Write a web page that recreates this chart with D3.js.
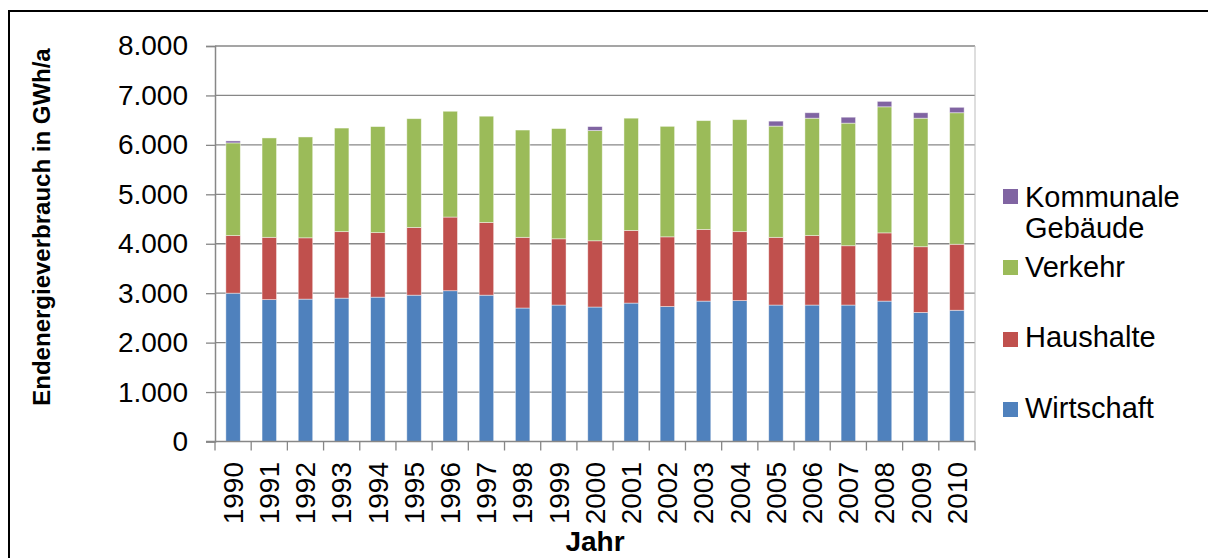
<!DOCTYPE html>
<html>
<head>
<meta charset="utf-8">
<script src="https://cdn.jsdelivr.net/npm/d3@7"></script>
<style>
  body { margin: 0; background: #fff; }
  svg { display: block; font-family: "Liberation Sans", Arial, sans-serif; }
</style>
</head>
<body>
<svg id="chart"></svg>
<script>
const W = 1208, H = 558;

// data (GWh/a)
const years = ["1990","1991","1992","1993","1994","1995","1996","1997","1998","1999","2000",
               "2001","2002","2003","2004","2005","2006","2007","2008","2009","2010"];
const wirtschaft = [3000,2870,2880,2900,2920,2960,3050,2960,2700,2760,2720,2800,2730,2840,2850,2760,2760,2760,2840,2610,2655];
const haushalte  = [1165,1260,1240,1345,1305,1370,1490,1470,1430,1340,1340,1470,1410,1450,1395,1370,1405,1200,1380,1330,1335];
const verkehr    = [1875,2010,2040,2095,2145,2200,2140,2150,2170,2230,2230,2270,2235,2200,2265,2250,2375,2480,2550,2600,2660];
const kommunal   = [40,0,0,0,0,0,0,0,0,0,80,0,0,0,0,100,110,120,110,110,110];
const yTicks = [0,1000,2000,3000,4000,5000,6000,7000,8000];

const seriesKeys = ["Wirtschaft","Haushalte","Verkehr","Kommunale Gebäude"];
const colors = ["#4F81BD","#C0504D","#9BBB59","#8064A2"];

// plot area
const X0 = 215, X1 = 975, Y0 = 46, Y1 = 441.5;
const gridColor = "#878787";

const svg = d3.select("#chart").attr("width", W).attr("height", H);

const rows = years.map((yr, i) => ({
  year: yr,
  "Wirtschaft": wirtschaft[i],
  "Haushalte": haushalte[i],
  "Verkehr": verkehr[i],
  "Kommunale Gebäude": kommunal[i]
}));
const stacked = d3.stack().keys(seriesKeys)(rows);

const x = d3.scaleBand().domain(years).range([X0, X1]);
const y = d3.scaleLinear().domain([0, 8000]).range([Y1, Y0]);
const color = d3.scaleOrdinal().domain(seriesKeys).range(colors);

const de = d3.formatLocale({decimal: ",", thousands: ".", grouping: [3], currency: ["", " €"]});
const fmt = de.format(",d");

// outer frame (left and top edge visible)
svg.append("path")
  .attr("d", `M${W},11 H9 V${H + 5}`)
  .attr("fill", "none").attr("stroke", "#000").attr("stroke-width", 2);

// gridlines
svg.append("g").selectAll("line")
  .data(yTicks.filter(d => d > 0))
  .join("line")
  .attr("x1", X0).attr("x2", X1)
  .attr("y1", d => y(d)).attr("y2", d => y(d))
  .attr("stroke", gridColor).attr("stroke-width", 1.3);

// right edge of plot area
svg.append("line")
  .attr("x1", X1).attr("x2", X1).attr("y1", Y0).attr("y2", Y1)
  .attr("stroke", "#bdbdbd").attr("stroke-width", 1);

// bars
const barW = x.bandwidth() * 0.4;
svg.append("g").selectAll("g")
  .data(stacked)
  .join("g")
  .attr("fill", d => color(d.key))
  .selectAll("rect")
  .data(d => d.filter(s => s[1] - s[0] > 0))
  .join("rect")
  .attr("x", d => x(d.data.year) + (x.bandwidth() - barW) / 2)
  .attr("width", barW)
  .attr("y", d => y(d[1]))
  .attr("height", d => y(d[0]) - y(d[1]))
  .attr("stroke", "rgba(255,255,255,0.55)")
  .attr("stroke-width", 0.8);

// y axis
const yAxis = svg.append("g").attr("transform", `translate(${X0},0)`)
  .call(d3.axisLeft(y).tickValues(yTicks).tickFormat(fmt).tickSize(9).tickPadding(18));
yAxis.select(".domain").attr("stroke", gridColor).attr("stroke-width", 1.5);
yAxis.selectAll(".tick line").attr("stroke", gridColor).attr("stroke-width", 1.3);
yAxis.selectAll(".tick text")
  .attr("font-size", 28).attr("fill", "#000")
  .attr("font-family", "Liberation Sans, Arial, sans-serif");

// x axis
const xAxisG = svg.append("g");
xAxisG.append("line")
  .attr("x1", X0 - 9).attr("x2", X1).attr("y1", Y1).attr("y2", Y1)
  .attr("stroke", gridColor).attr("stroke-width", 1.5);
xAxisG.selectAll("line.tick")
  .data(years.map(yr => x(yr)).concat([X1]))
  .join("line")
  .attr("class", "tick")
  .attr("x1", d => d).attr("x2", d => d)
  .attr("y1", Y1).attr("y2", Y1 + 9)
  .attr("stroke", gridColor).attr("stroke-width", 1.3);
xAxisG.selectAll("text")
  .data(years)
  .join("text")
  .attr("transform", d => `translate(${x(d) + x.bandwidth() / 2},${462}) rotate(-90)`)
  .attr("text-anchor", "end")
  .attr("dy", "0.35em")
  .attr("font-size", 28)
  .text(d => d);

// axis titles
svg.append("text")
  .attr("transform", `translate(50,227) rotate(-90)`)
  .attr("text-anchor", "middle")
  .attr("font-size", 24).attr("font-weight", "bold")
  .text("Endenergieverbrauch in GWh/a");

svg.append("text")
  .attr("x", (X0 + X1) / 2).attr("y", 551)
  .attr("text-anchor", "middle")
  .attr("font-size", 28).attr("font-weight", "bold")
  .text("Jahr");

// legend (top to bottom: reverse of stack order)
const legendItems = [
  {key: "Kommunale Gebäude", lines: ["Kommunale", "Gebäude"], sy: 189, ty: 207},
  {key: "Verkehr", lines: ["Verkehr"], sy: 260, ty: 277},
  {key: "Haushalte", lines: ["Haushalte"], sy: 332, ty: 347},
  {key: "Wirtschaft", lines: ["Wirtschaft"], sy: 402, ty: 418}
];
const legend = svg.append("g");
legend.selectAll("rect")
  .data(legendItems)
  .join("rect")
  .attr("x", 1003).attr("y", d => d.sy)
  .attr("width", 15).attr("height", 15)
  .attr("fill", d => color(d.key));
legend.selectAll("text")
  .data(legendItems)
  .join("text")
  .attr("x", 1025).attr("y", d => d.ty)
  .attr("font-size", 29)
  .each(function(d) {
    d3.select(this).selectAll("tspan")
      .data(d.lines)
      .join("tspan")
      .attr("x", 1025)
      .attr("dy", (l, i) => i === 0 ? 0 : 31)
      .text(l => l);
  });
</script>
</body>
</html>
